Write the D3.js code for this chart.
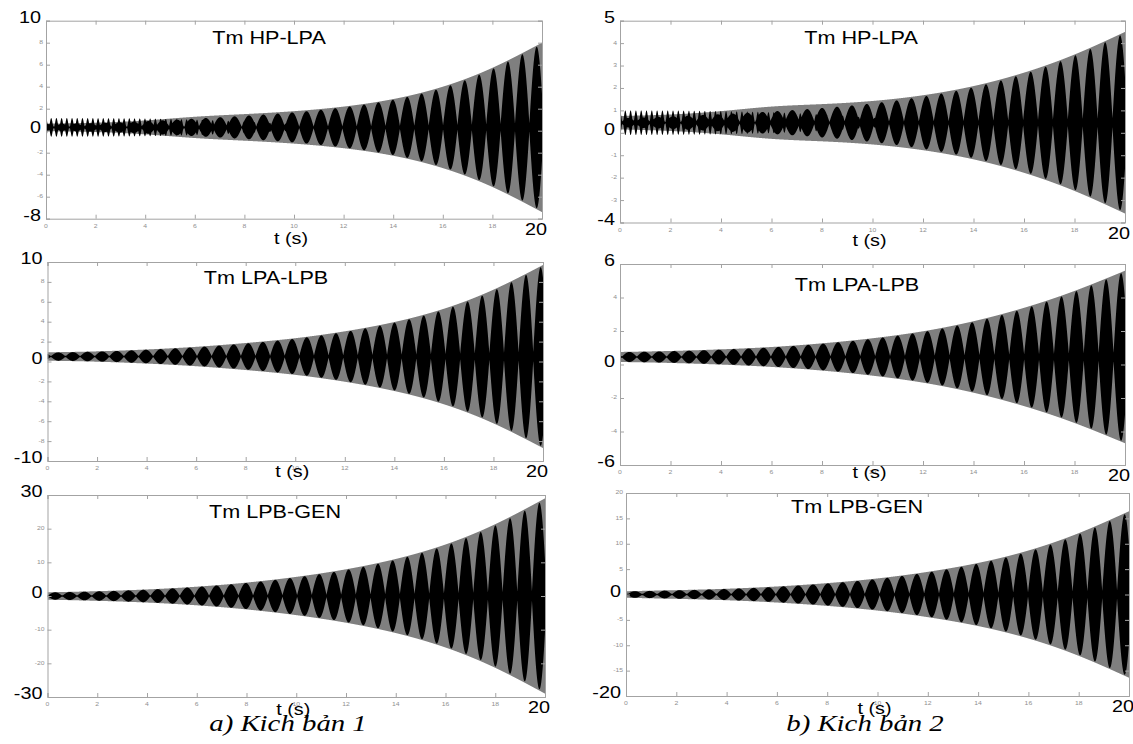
<!DOCTYPE html>
<html>
<head>
<meta charset="utf-8">
<script src="https://cdn.jsdelivr.net/npm/d3@7"></script>
<style>
  html, body { margin: 0; padding: 0; background: #fff; }
  svg { display: block; }
</style>
</head>
<body>
<svg id="chart" width="1133" height="744"></svg>
<script>
// ---------------- DATA ----------------
const timeKnots = [0, 2, 4, 6, 8, 10, 12, 14, 16, 18, 20];          // s
const xTickValues = [0, 2, 4, 6, 8, 10, 12, 14, 16, 18, 20];
const xTickLabels = ["0", "2", "4", "6", "8", "10", "12", "14", "16", "18"];

const panelTitles = ["Tm HP-LPA", "Tm HP-LPA", "Tm LPA-LPB", "Tm LPA-LPB", "Tm LPB-GEN", "Tm LPB-GEN"];
const yDomains = [[-8, 10], [-4, 5], [-10, 10], [-6, 6], [-30, 30], [-20, 20]];
const ySmallTicks = [
  [8, 6, 4, 2, -2, -4, -6],
  [4, 3, 2, 1, -1, -2, -3],
  [8, 6, 4, 2, -2, -4, -6, -8],
  [4, 2, -2, -4],
  [20, 10, -10, -20],
  [20, 15, 10, 5, -5, -10, -15]
];
const yBigLabels = [
  [10, 0, -8],
  [5, 0, -4],
  [10, 0, -10],
  [6, 0, -6],
  [30, 0, -30],
  [0, -20]
];
const captions = ["a) Kich bản 1", "b) Kich bản 2"];

// oscillation centre line (offset) of each panel
const signalCentre = [0.3, 0.45, 0.5, 0.45, 0, 0];

// outer (grey) envelope half-width at timeKnots
const envHpLpa1 = [0.35, 0.4, 0.6, 1.0, 1.2, 1.45, 1.85, 2.5, 3.6, 5.3, 7.7];
const envHpLpa2 = [0.3, 0.35, 0.5, 0.75, 0.82, 0.95, 1.2, 1.6, 2.2, 3.0, 4.05];
const envLpaLpb1 = [0.42, 0.5, 0.7, 0.95, 1.35, 1.8, 2.5, 3.4, 4.7, 6.6, 9.2];
const envLpaLpb2 = [0.3, 0.35, 0.45, 0.58, 0.8, 1.1, 1.5, 2.1, 2.9, 3.9, 5.15];
const envLpbGen1 = [1.1, 1.4, 1.9, 2.7, 3.9, 5.6, 7.8, 10.8, 15.0, 21.0, 29.0];
const envLpbGen2 = [0.65, 0.85, 1.1, 1.55, 2.2, 3.1, 4.4, 6.1, 8.5, 11.9, 16.4];

// peak half-height of the black beat lobes at timeKnots
const beatHpLpa1 = [0.3, 0.38, 0.55, 0.8, 1.05, 1.35, 1.8, 2.45, 3.5, 5.2, 7.6];
const beatHpLpa2 = [0.2, 0.28, 0.38, 0.5, 0.65, 0.85, 1.15, 1.55, 2.15, 2.95, 4.0];
const beatLpaLpb1 = [0.4, 0.48, 0.68, 0.92, 1.3, 1.75, 2.45, 3.35, 4.6, 6.5, 9.1];
const beatLpaLpb2 = [0.29, 0.34, 0.44, 0.56, 0.78, 1.07, 1.47, 2.05, 2.85, 3.85, 5.1];
const beatLpbGen1 = [1.05, 1.35, 1.85, 2.65, 3.8, 5.5, 7.6, 10.6, 14.7, 20.6, 28.6];
const beatLpbGen2 = [0.62, 0.82, 1.07, 1.5, 2.15, 3.0, 4.3, 6.0, 8.3, 11.7, 16.2];

// fast decaying spikes (only visible in the HP-LPA panels)
const fastHpLpa1 = [0.85, 0.85, 0.82, 0.72, 0.55, 0.3, 0.1, 0, 0, 0, 0];
const fastHpLpa2 = [0.55, 0.55, 0.52, 0.48, 0.38, 0.22, 0.08, 0, 0, 0, 0];

const beatPeriods = [0.58, 0.59, 0.59, 0.59, 0.59, 0.59];    // s
const beatPhases = [19.78, 19.8, 0.43, 19.84, 0.3, 0.35];    // time of a lobe maximum
const fastPeriod = 0.21;                                      // s

const envelopes = [envHpLpa1, envHpLpa2, envLpaLpb1, envLpaLpb2, envLpbGen1, envLpbGen2];
const beats = [beatHpLpa1, beatHpLpa2, beatLpaLpb1, beatLpaLpb2, beatLpbGen1, beatLpbGen2];
const fasts = [fastHpLpa1, fastHpLpa2, null, null, null, null];

// ---------------- LAYOUT ----------------
const frames = [
  { x0: 46,  x1: 542,  y0: 20.7, y1: 218.7, tOff: 25, tx: 269, ty: 44 },
  { x0: 620, x1: 1125, y0: 20.7, y1: 222.5, tOff: 23, tx: 861, ty: 44 },
  { x0: 47.5, x1: 543, y0: 262,  y1: 461,   tOff: 16, tx: 266, ty: 284 },
  { x0: 620, x1: 1125, y0: 264,  y1: 465,   tOff: 13, tx: 857, ty: 291 },
  { x0: 47.5, x1: 545, y0: 495,  y1: 697,   tOff: 18, tx: 275, ty: 518 },
  { x0: 626, x1: 1129, y0: 493,  y1: 696,   tOff: 18, tx: 857, ty: 513 }
];
const SX = 1.24;  // horizontal stretch of the scanned figure's text
const axisColor = "#a3a3a3";
const sans = "'Liberation Sans', Arial, sans-serif";

const svg = d3.select("#chart");
svg.append("rect").attr("width", 1133).attr("height", 744).attr("fill", "#fff");

function stretchedText(g, txt, x, y, size, anchor, opts = {}) {
  return g.append("text")
    .attr("transform", `translate(${x},${y}) scale(${opts.sx || SX},1)`)
    .attr("text-anchor", anchor)
    .attr("dominant-baseline", opts.baseline || "auto")
    .attr("font-family", opts.family || sans)
    .attr("font-style", opts.style || "normal")
    .attr("font-size", size)
    .attr("fill", opts.fill || "#000")
    .text(txt);
}

const T = d3.range(0, 20.0001, 0.004);

frames.forEach((f, i) => {
  const g = svg.append("g");
  const x = d3.scaleLinear().domain([0, 20]).range([f.x0, f.x1]);
  const y = d3.scaleLinear().domain(yDomains[i]).range([f.y1, f.y0]);
  const pxPerUnit = (f.y1 - f.y0) / (yDomains[i][1] - yDomains[i][0]);

  const envI = d3.interpolateBasis(envelopes[i]);
  const beatI = d3.interpolateBasis(beats[i]);
  const fastI = fasts[i] ? d3.interpolateBasis(fasts[i]) : null;
  const c = signalCentre[i];
  const P = beatPeriods[i], ph = beatPhases[i];
  const m = 0.05;

  const pts = T.map(t => {
    const u = t / timeKnots[timeKnots.length - 1];
    const e = envI(u);
    const b = beatI(u) * (m + (1 - m) * Math.abs(Math.cos(Math.PI * (t - ph) / P)));
    const s = fastI ? Math.max(0, fastI(u)) * Math.pow(Math.abs(Math.cos(Math.PI * t / fastPeriod)), 2) : 0;
    const h = Math.max(b, s, 0.8 / pxPerUnit);
    return { t, e, h };
  });

  const clipId = "clip" + i;
  svg.append("clipPath").attr("id", clipId)
    .append("rect").attr("x", f.x0).attr("y", f.y0)
    .attr("width", f.x1 - f.x0).attr("height", f.y1 - f.y0);

  const dataG = g.append("g").attr("clip-path", `url(#${clipId})`);
  dataG.append("path").datum(pts)
    .attr("fill", "#7f7f7f")
    .attr("d", d3.area().x(d => x(d.t)).y0(d => y(c - d.e)).y1(d => y(c + d.e)));
  dataG.append("path").datum(pts)
    .attr("fill", "#000")
    .attr("d", d3.area().x(d => x(d.t)).y0(d => y(c - d.h)).y1(d => y(c + d.h)));

  // axes box (MATLAB style, inward ticks)
  const bottom = d3.axisBottom(x).tickValues(xTickValues).tickSize(-4).tickFormat("");
  const top = d3.axisTop(x).tickValues(xTickValues).tickSize(-4).tickFormat("");
  const yTicksAll = ySmallTicks[i].concat(yBigLabels[i]);
  const left = d3.axisLeft(y).tickValues(yTicksAll).tickSize(-4).tickFormat("");
  const right = d3.axisRight(y).tickValues(yTicksAll).tickSize(-4).tickFormat("");
  const styleAxis = sel => {
    sel.selectAll("path").attr("stroke", axisColor).attr("stroke-width", 1);
    sel.selectAll("line").attr("stroke", axisColor).attr("stroke-width", 1);
  };
  g.append("g").attr("transform", `translate(0,${f.y1})`).call(bottom).call(styleAxis);
  g.append("g").attr("transform", `translate(0,${f.y0})`).call(top).call(styleAxis);
  g.append("g").attr("transform", `translate(${f.x0},0)`).call(left).call(styleAxis);
  g.append("g").attr("transform", `translate(${f.x1},0)`).call(right).call(styleAxis);

  // tiny tick labels
  xTickLabels.forEach((lab, k) => {
    stretchedText(g, lab, x(xTickValues[k]), f.y1 + 8, 5.5, "middle", { baseline: "middle", fill: "#909090" });
  });
  ySmallTicks[i].forEach(v => {
    stretchedText(g, String(v), f.x0 - 3, y(v), 5.5, "end", { baseline: "middle", fill: "#909090" });
  });

  // big overlay labels
  yBigLabels[i].forEach(v => {
    stretchedText(g, String(v), f.x0 - 5, y(v) - 2, 16, "end", { baseline: "middle" });
  });
  stretchedText(g, "20", x(20) - 6, f.y1 + 12, 16, "middle", { baseline: "middle" });

  // x-axis title
  stretchedText(g, "t (s)", x(10) - 3, f.y1 + f.tOff, 16, "middle");

  // panel title
  stretchedText(g, panelTitles[i], f.tx, f.ty, 18, "middle", { sx: 1.2 });
});

// captions
const serif = "'Liberation Serif', 'Times New Roman', serif";
stretchedText(svg, captions[0], 288, 731, 24, "middle", { family: serif, style: "italic", sx: 1.2 });
stretchedText(svg, captions[1], 865, 731, 24, "middle", { family: serif, style: "italic", sx: 1.2 });
</script>
</body>
</html>
